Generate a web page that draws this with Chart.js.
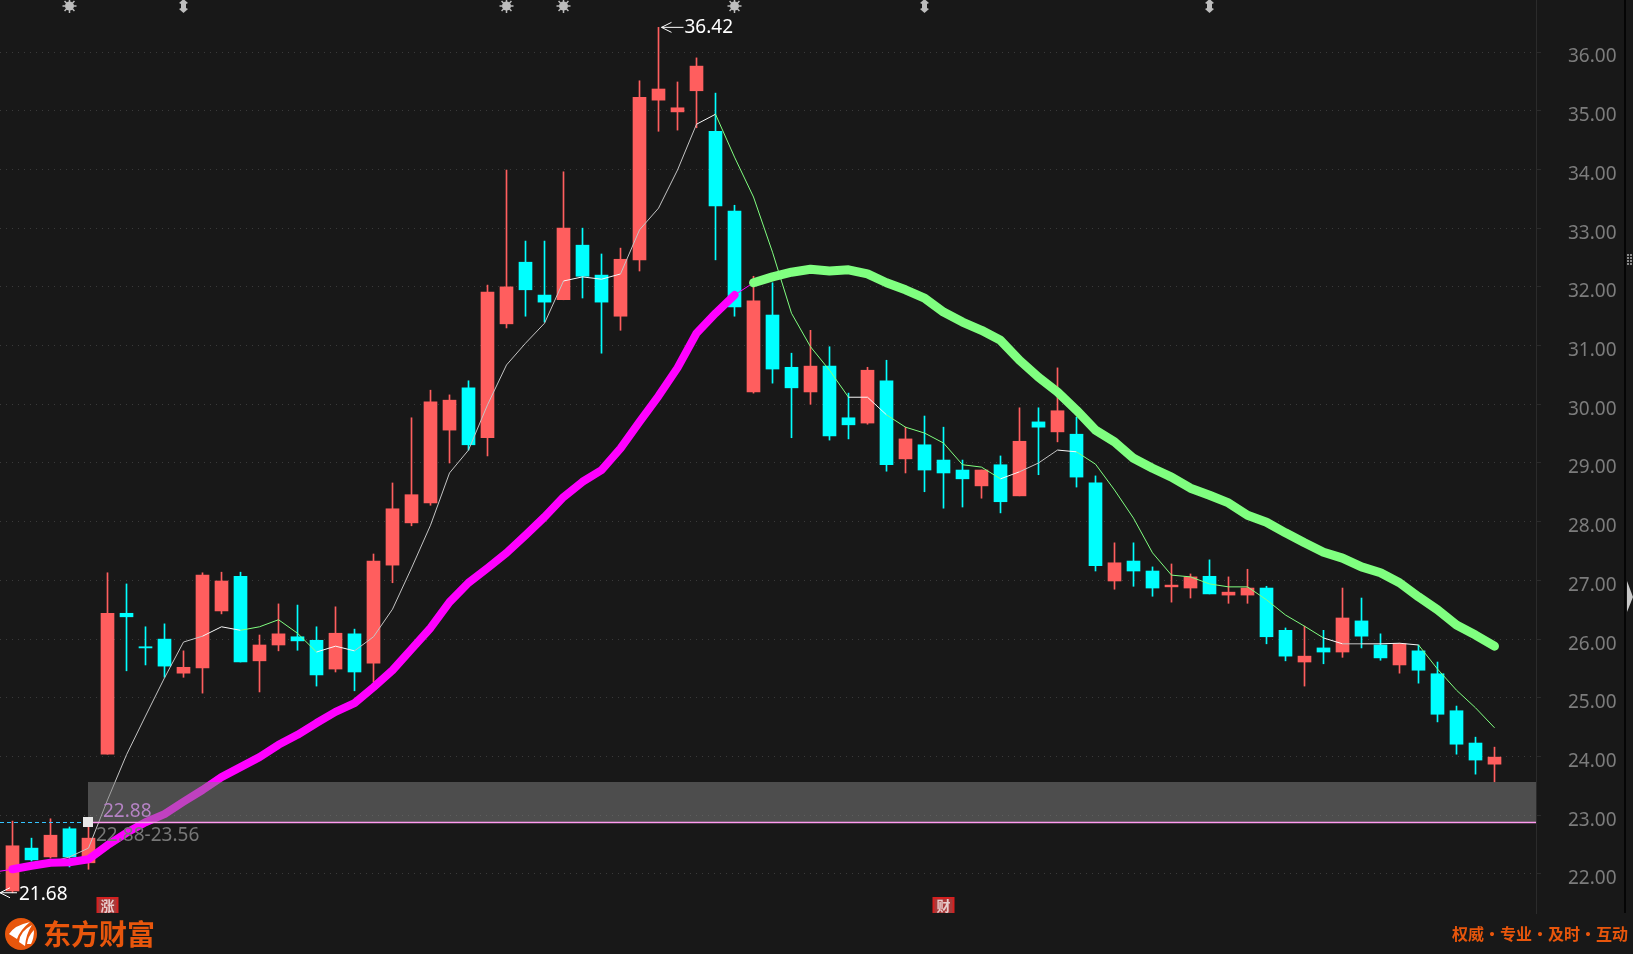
<!DOCTYPE html>
<html lang="zh">
<head>
<meta charset="utf-8">
<title>K线图</title>
<script src="https://cdn.jsdelivr.net/npm/chart.js@4/dist/chart.umd.min.js"></script>
<style>
  html, body { margin: 0; padding: 0; background: #181818; overflow: hidden; }
  canvas { display: block; }
</style>
</head>
<body>
<canvas id="kline" width="1633" height="954"></canvas>
<script>
// Datos
const opens = [21.71,22.44,22.29,22.77,22.19,24.04,26.44,25.87,26.00,25.42,25.51,26.48,27.07,25.63,25.90,26.04,25.98,25.49,26.09,25.59,
  27.26,27.98,28.32,29.56,30.28,29.43,31.37,32.42,31.86,31.78,32.71,32.20,31.50,32.46,35.18,34.98,35.34,34.65,33.29,30.21,
  31.52,30.63,30.21,30.65,29.77,29.68,30.40,29.07,29.31,29.05,28.88,28.61,28.97,28.44,29.70,29.53,29.49,28.66,26.99,27.33,
  27.16,26.89,26.87,27.07,26.75,26.75,26.87,26.15,25.61,25.85,25.78,26.31,25.90,25.56,25.80,25.41,24.78,24.23,23.87];
const closes = [22.48,22.24,22.66,22.29,22.61,26.44,26.38,25.85,25.54,25.52,27.09,26.99,25.61,25.90,26.09,25.97,25.39,26.10,25.44,27.33,
  28.22,28.46,30.04,30.07,29.31,31.91,32.00,31.95,31.74,33.00,32.18,31.74,32.47,35.23,35.37,35.05,35.76,33.38,31.66,31.76,
  30.60,30.28,30.65,29.46,29.65,30.58,28.97,29.41,28.88,28.83,28.73,28.88,28.34,29.37,29.61,29.89,28.76,27.25,27.30,27.16,
  26.87,26.92,27.06,26.77,26.80,26.87,26.04,25.71,25.71,25.78,26.36,26.05,25.68,25.92,25.47,24.72,24.21,23.94,23.99];
const highs = [22.90,22.61,22.94,22.80,22.87,27.13,26.94,26.21,26.26,25.80,27.13,27.14,27.14,26.07,26.60,26.58,26.21,26.55,26.17,27.45,
  28.66,29.77,30.24,30.16,30.40,32.03,33.99,32.78,32.78,33.96,33.00,32.56,32.66,35.51,36.42,35.49,35.90,35.30,33.39,32.18,
  32.07,30.87,31.26,30.98,30.19,30.63,30.75,29.61,29.80,29.61,29.05,28.88,29.12,29.94,29.94,30.62,29.78,28.78,27.64,27.64,
  27.23,27.28,27.11,27.35,27.06,27.19,26.90,26.19,26.22,26.15,26.87,26.70,26.09,25.93,25.90,25.61,24.86,24.33,24.16];
const lows = [21.68,22.22,22.27,22.12,22.08,24.04,25.46,25.56,25.35,25.35,25.08,26.43,25.61,25.10,25.80,25.81,25.20,25.44,25.12,25.27,
  26.96,27.93,28.28,29.00,29.22,29.12,31.30,31.50,31.40,31.78,31.81,30.87,31.26,32.27,34.65,34.67,34.71,32.46,31.50,30.19,
  30.36,29.43,30.00,29.39,29.41,29.66,28.86,28.83,28.51,28.23,28.25,28.40,28.15,28.44,28.80,29.36,28.59,27.16,26.85,26.90,
  26.73,26.63,26.70,26.77,26.61,26.61,25.92,25.63,25.20,25.58,25.69,25.85,25.64,25.42,25.25,24.59,24.04,23.70,23.57];

const maCorta = [22.07,22.14,22.20,22.29,22.44,23.26,24.03,24.69,25.34,25.95,26.05,26.21,26.15,26.21,26.33,26.10,25.78,25.88,25.80,26.04,
  26.51,27.21,27.94,28.83,29.22,29.99,30.67,31.04,31.38,32.10,32.17,32.13,32.22,32.97,33.34,33.99,34.77,34.94,34.21,33.53,
  32.59,31.55,30.98,30.58,30.12,30.12,29.82,29.61,29.51,29.34,28.97,28.93,28.73,28.85,29.00,29.22,29.19,28.98,28.54,28.06,
  27.47,27.09,27.06,26.94,26.89,26.89,26.67,26.41,26.22,26.02,25.92,25.92,25.92,25.93,25.90,25.49,25.13,24.83,24.49];
const maSube = [22.08,22.14,22.19,22.20,22.25,22.49,22.70,22.88,23.02,23.23,23.43,23.65,23.82,23.99,24.20,24.37,24.57,24.76,24.91,25.18,
  25.47,25.83,26.19,26.63,26.96,27.21,27.47,27.77,28.08,28.42,28.68,28.88,29.25,29.70,30.14,30.62,31.21,31.55,31.86];
const maBaja = [32.07,32.17,32.25,32.30,32.27,32.29,32.22,32.07,31.95,31.81,31.57,31.40,31.26,31.09,30.75,30.46,30.21,29.90,29.56,29.36,
  29.08,28.91,28.76,28.57,28.45,28.32,28.11,27.99,27.81,27.64,27.48,27.38,27.23,27.13,26.96,26.72,26.50,26.24,26.07,25.88];
const maInicio = 22.03; // tramo fino que entra por la izquierda

const yTicks = [22,23,24,25,26,27,28,29,30,31,32,33,34,35,36];
const zonaBaja = 22.88;
const zonaAlta = 23.56;
const idxMax = 34;
const idxMin = 0;
const idxSol = [3,26,29,38];
const idxFlecha = [9,48,63];
const marcas = [{ idx: 5, texto: '涨' }, { idx: 49, texto: '财' }];

const ROJO = '#ff5e5e';
const CIAN = '#00ffff';
const VERDE = '#80ff80';
const MAGENTA = '#ff00ff';
const NARANJA = '#e8560c';

// Tramos del promedio corto: [desde, hasta] por color
const tramosVerdes = [[12,16],[37,44],[46,52],[56,69],[74,78]];
const tramosBlancos = [[10,12],[16,18],[29,32],[36,37],[44,46],[52,53],[55,56],[69,70],[71,74]];

function colorTramo(i) {
  if (tramosVerdes.some(t => i >= t[0] && i < t[1])) return VERDE;
  if (tramosBlancos.some(t => i >= t[0] && i < t[1])) return '#f8f8f8';
  return '#c4c4c4';
}

const indices = opens.map((_, i) => i);
const colores = indices.map(i => closes[i] >= opens[i] ? ROJO : CIAN);

// Flecha fina con punta a la izquierda
function flecha(ctx, x1, x2, y) {
  ctx.strokeStyle = '#fff';
  ctx.lineWidth = 1;
  ctx.beginPath();
  ctx.moveTo(x2, y); ctx.lineTo(x1, y);
  ctx.moveTo(x1 + 10, y - 5); ctx.lineTo(x1, y); ctx.lineTo(x1 + 10, y + 5);
  ctx.stroke();
}

function sol(ctx, x, y) {
  ctx.fillStyle = ctx.strokeStyle = '#bdbdbd';
  ctx.lineWidth = 1.5;
  ctx.beginPath(); ctx.arc(x, y, 4.5, 0, Math.PI * 2); ctx.fill();
  for (let a = 0; a < 8; a++) {
    const r = a * Math.PI / 4;
    ctx.beginPath();
    ctx.moveTo(x + Math.cos(r) * 4, y + Math.sin(r) * 4);
    ctx.lineTo(x + Math.cos(r) * 7, y + Math.sin(r) * 7);
    ctx.stroke();
  }
}

function flechaDoble(ctx, x, y) {
  ctx.fillStyle = '#bdbdbd';
  ctx.beginPath();
  ctx.moveTo(x, y - 7); ctx.lineTo(x + 4.5, y - 3); ctx.lineTo(x + 2.5, y - 2); ctx.lineTo(x + 2.5, y + 2);
  ctx.lineTo(x + 4.5, y + 3); ctx.lineTo(x, y + 7); ctx.lineTo(x - 4.5, y + 3); ctx.lineTo(x - 2.5, y + 2);
  ctx.lineTo(x - 2.5, y - 2); ctx.lineTo(x - 4.5, y - 3);
  ctx.closePath();
  ctx.fill();
}

function logo(ctx) {
  ctx.fillStyle = NARANJA;
  ctx.beginPath(); ctx.arc(21, 934, 16, 0, Math.PI * 2); ctx.fill();
  ctx.fillStyle = '#fff';
  ctx.beginPath(); ctx.moveTo(9, 934); ctx.quadraticCurveTo(15, 925, 30, 922); ctx.quadraticCurveTo(20, 930, 17, 939); ctx.closePath(); ctx.fill();
  ctx.beginPath(); ctx.moveTo(19, 942); ctx.quadraticCurveTo(20, 931, 32, 925); ctx.quadraticCurveTo(26, 934, 25, 946); ctx.closePath(); ctx.fill();
  ctx.beginPath(); ctx.moveTo(27, 944); ctx.quadraticCurveTo(28, 936, 34, 930); ctx.quadraticCurveTo(34, 938, 31, 944); ctx.closePath(); ctx.fill();
}

const decorado = {
  id: 'decorado',
  afterDatasetsDraw(chart) {
    const ctx = chart.ctx;
    const x = chart.scales.x;
    const y = chart.scales.y;
    const area = chart.chartArea;
    const xZona = Math.floor(x.getPixelForValue(4));
    const yBaja = Math.round(y.getPixelForValue(zonaBaja));
    const yAlta = Math.round(y.getPixelForValue(zonaAlta));

    ctx.save();
    // Zona resaltada
    ctx.fillStyle = 'rgba(130,130,130,0.5)';
    ctx.fillRect(xZona, yAlta, area.right - xZona, yBaja - yAlta);
    ctx.strokeStyle = '#35c4ff';
    ctx.lineWidth = 1;
    ctx.setLineDash([4, 3]);
    ctx.beginPath(); ctx.moveTo(0, yBaja + 0.5); ctx.lineTo(area.right, yBaja + 0.5); ctx.stroke();
    ctx.setLineDash([]);
    ctx.strokeStyle = '#ff9cf0';
    ctx.lineWidth = 1.5;
    ctx.beginPath(); ctx.moveTo(xZona, yBaja + 0.5); ctx.lineTo(area.right, yBaja + 0.5); ctx.stroke();
    ctx.fillStyle = '#e8e8e8';
    ctx.fillRect(xZona - 5, yBaja - 5, 10, 10);

    ctx.textBaseline = 'middle';
    ctx.textAlign = 'left';
    ctx.font = '19px "Noto Sans"';
    ctx.fillStyle = '#b583c4';
    ctx.fillText(zonaBaja.toFixed(2), 103, yBaja - 10);
    ctx.fillStyle = '#777';
    ctx.fillText(zonaBaja.toFixed(2) + '-' + zonaAlta.toFixed(2), 96, yBaja + 14);

    // Máximo y mínimo
    const xMax = x.getPixelForValue(idxMax);
    const yMax = y.getPixelForValue(highs[idxMax]);
    flecha(ctx, xMax + 3, xMax + 25, yMax);
    const yMin = y.getPixelForValue(lows[idxMin]);
    flecha(ctx, 0, 17, yMin);
    ctx.fillStyle = '#fff';
    ctx.fillText(highs[idxMax].toFixed(2), xMax + 26, yMax);
    ctx.fillText(lows[idxMin].toFixed(2), 19, yMin + 1.5);

    // Iconos superiores
    idxSol.forEach(i => sol(ctx, x.getPixelForValue(i), 6));
    idxFlecha.forEach(i => flechaDoble(ctx, x.getPixelForValue(i), 6));

    // Marcas inferiores
    marcas.forEach(m => {
      const c = x.getPixelForValue(m.idx);
      ctx.fillStyle = '#d42020';
      ctx.fillRect(c - 11, 897, 22, 16);
      ctx.fillStyle = '#a83a3a';
      ctx.fillRect(c - 9, 899, 18, 14);
      ctx.fillStyle = '#e8cccc';
      ctx.font = 'bold 14px "Noto Sans CJK SC"';
      ctx.textAlign = 'center';
      ctx.fillText(m.texto, c, 906);
    });

    // Borde derecho
    ctx.fillStyle = '#050505';
    ctx.fillRect(1624, 0, 2, 913);
    ctx.fillStyle = '#888';
    for (let f = 0; f < 4; f++) {
      ctx.fillRect(1627, 254 + f * 3, 2, 2);
      ctx.fillRect(1630, 254 + f * 3, 2, 2);
    }
    ctx.fillStyle = '#c8c8c8';
    ctx.beginPath(); ctx.moveTo(1627, 581); ctx.lineTo(1633, 597); ctx.lineTo(1627, 612); ctx.closePath(); ctx.fill();

    // Pie de página
    logo(ctx);
    ctx.fillStyle = NARANJA;
    ctx.textAlign = 'left';
    ctx.font = 'bold 28px "Noto Sans CJK SC"';
    ctx.fillText('东方财富', 43, 934);
    ctx.font = 'bold 16px "Noto Sans CJK SC"';
    ctx.textAlign = 'right';
    ctx.fillText('权威·专业·及时·互动', 1628, 934);
    ctx.restore();
  }
};

const puntos = (valores, desde) => valores.map((v, i) => ({ x: desde + i, y: v }));

new Chart(document.getElementById('kline'), {
  data: {
    datasets: [
      {
        type: 'bar', label: 'mechas', order: 5, grouped: false, barThickness: 1,
        data: indices.map(i => ({ x: i, y: [lows[i], highs[i]] })),
        backgroundColor: colores, borderWidth: 0
      },
      {
        type: 'bar', label: 'cuerpos', order: 4, grouped: false, barThickness: 13,
        data: indices.map(i => ({ x: i, y: [Math.min(opens[i], closes[i]), Math.max(opens[i], closes[i])] })),
        backgroundColor: colores, borderWidth: 0
      },
      {
        type: 'line', label: 'MA corta', order: 3, pointRadius: 0, borderWidth: 1, borderColor: '#c4c4c4', tension: 0,
        data: puntos(maCorta, 0),
        segment: { borderColor: c => colorTramo(c.p0DataIndex) }
      },
      {
        type: 'line', label: 'enlace', order: 2, pointRadius: 0, borderWidth: 1, borderColor: MAGENTA, tension: 0,
        data: [{ x: -1, y: maInicio }, { x: 0, y: maSube[0] }, { x: 0.5, y: null },
          { x: 38, y: maSube[38] }, { x: 39, y: maBaja[0] }]
      },
      {
        type: 'line', label: 'MA sube', order: 1, pointRadius: 0, borderWidth: 8, borderColor: MAGENTA, tension: 0,
        borderCapStyle: 'round', borderJoinStyle: 'round',
        data: puntos(maSube, 0)
      },
      {
        type: 'line', label: 'MA baja', order: 1, pointRadius: 0, borderWidth: 9, borderColor: VERDE, tension: 0,
        borderCapStyle: 'round', borderJoinStyle: 'round',
        data: puntos(maBaja, 39)
      }
    ]
  },
  options: {
    responsive: false,
    animation: false,
    events: [],
    layout: { padding: { top: 0, left: 0, right: 9, bottom: 41 } },
    plugins: { legend: { display: false }, tooltip: { enabled: false } },
    scales: {
      x: {
        type: 'linear',
        display: false,
        offset: false,
        min: -12.5 / 19,
        max: (1536 - 12.5) / 19
      },
      y: {
        type: 'linear',
        position: 'right',
        min: 21.335,
        max: 36.886,
        afterFit: s => { s.width = 88; s.paddingTop = 0; s.paddingBottom = 0; },
        afterBuildTicks: s => { s.ticks = yTicks.map(v => ({ value: v })); },
        border: { display: true, color: '#2b2b2b', width: 1, dash: [1, 5] },
        grid: {
          color: '#3a3a3a',
          tickBorderDash: [],
          tickColor: '#2b2b2b',
          tickLength: 5
        },
        ticks: {
          color: '#7c7c7c',
          padding: 27,
          labelOffset: 5,
          font: { family: '"Noto Sans"', size: 19 },
          callback: v => Number(v).toFixed(2)
        }
      }
    }
  },
  plugins: [decorado]
});
</script>
</body>
</html>
